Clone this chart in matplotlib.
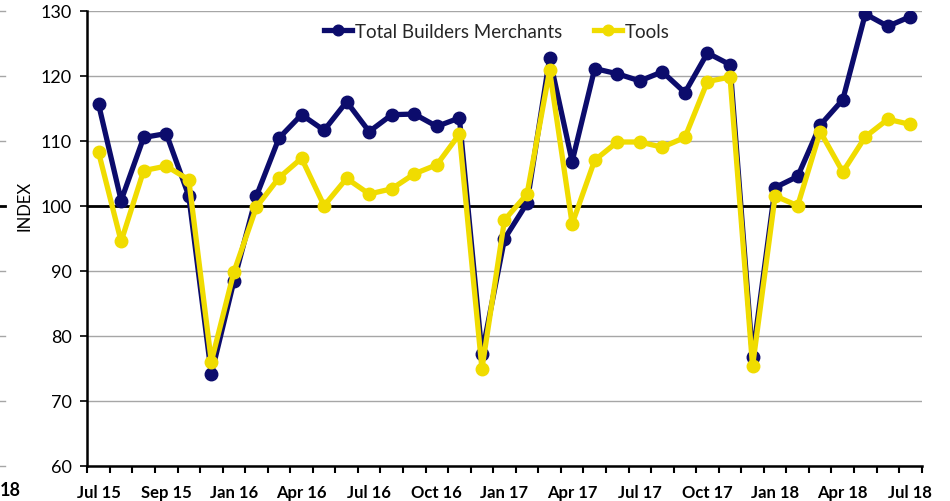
import numpy as np
import matplotlib
matplotlib.use("Agg")
import matplotlib.pyplot as plt
from matplotlib.ticker import FixedLocator
from matplotlib.lines import Line2D

# Monthly index, Jul 15 .. Jul 18
months = ["Jul 15", "Aug 15", "Sep 15", "Oct 15", "Nov 15", "Dec 15",
          "Jan 16", "Feb 16", "Mar 16", "Apr 16", "May 16", "Jun 16",
          "Jul 16", "Aug 16", "Sep 16", "Oct 16", "Nov 16", "Dec 16",
          "Jan 17", "Feb 17", "Mar 17", "Apr 17", "May 17", "Jun 17",
          "Jul 17", "Aug 17", "Sep 17", "Oct 17", "Nov 17", "Dec 17",
          "Jan 18", "Feb 18", "Mar 18", "Apr 18", "May 18", "Jun 18", "Jul 18"]

total_builders = [115.6, 100.8, 110.5, 111.1, 101.5, 74.1,
                  88.4, 101.5, 110.4, 114.0, 111.6, 116.0,
                  111.4, 114.0, 114.1, 112.2, 113.5, 77.2,
                  94.9, 100.4, 122.7, 106.8, 121.1, 120.3,
                  119.2, 120.6, 117.4, 123.5, 121.7, 76.7,
                  102.8, 104.5, 112.4, 116.3, 129.5, 127.6, 129.1]

tools = [108.2, 94.5, 105.4, 106.1, 104.0, 76.0,
         89.8, 99.8, 104.3, 107.3, 100.0, 104.2,
         101.8, 102.6, 104.9, 106.3, 111.0, 74.9,
         97.8, 101.8, 120.8, 97.2, 107.0, 109.8,
         109.8, 109.0, 110.5, 119.1, 119.8, 75.3,
         101.5, 100.0, 111.4, 105.2, 110.6, 113.3, 112.5]

# the source chart labels every third month (its second label really reads "Sep 15")
tick_labels = ["Jul 15", "Sep 15", "Jan 16", "Apr 16", "Jul 16", "Oct 16", "Jan 17",
               "Apr 17", "Jul 17", "Oct 17", "Jan 18", "Apr 18", "Jul 18"]

navy = "#0c0c6c"
yellow = "#f0dc00"

fig = plt.figure(figsize=(9.5, 5.02), dpi=100)
ax = fig.add_axes([0.0919, 0.0703, 0.8783, 0.9064])

x = np.arange(len(months))
ax.plot(x, total_builders, color=navy, lw=3.8, marker="o", ms=9,
        label="Total Builders Merchants", zorder=3, solid_joinstyle="round")
ax.plot(x, tools, color=yellow, lw=3.8, marker="o", ms=9,
        label="Tools", zorder=4, solid_joinstyle="round")

ax.set_xlim(-0.5, len(months) - 0.5)
ax.set_ylim(60, 130)
ax.set_yticks(np.arange(60, 131, 10))
ax.yaxis.grid(True, color="#a6a6a6", lw=1.0)
ax.set_axisbelow(True)
ax.axhline(100, color="black", lw=2.0, zorder=2)

ax.xaxis.set_major_locator(FixedLocator(np.arange(0, len(months), 3)))
ax.set_xticklabels(tick_labels)
ax.xaxis.set_minor_locator(FixedLocator(np.arange(-0.5, len(months), 1)))
ax.tick_params(axis="x", which="major", length=0, pad=13)
ax.tick_params(axis="x", which="minor", length=5, width=1.5, color="black")
ax.tick_params(axis="y", length=5, width=1.2, pad=6)

for lab in ax.get_xticklabels():
    lab.set_fontfamily("Lato")
    lab.set_fontweight("bold")
    lab.set_fontsize(12)
for lab in ax.get_yticklabels():
    lab.set_fontfamily("Lato")
    lab.set_fontsize(13)

for side in ["top", "right"]:
    ax.spines[side].set_visible(False)
ax.spines["left"].set_linewidth(1.8)
ax.spines["bottom"].set_linewidth(1.8)

ax.set_ylabel("INDEX", fontsize=12, family="Lato")
ax.yaxis.set_label_coords(-0.066, 0.573)

leg = ax.legend(loc="center", bbox_to_anchor=(0.491, 0.955), ncol=2, frameon=False,
                prop={"family": "Lato", "size": 13.5}, handlelength=1.5,
                columnspacing=1.7, handletextpad=0.15, markerscale=0.85)
for t in leg.get_texts():
    t.set_color("#262626")

# remnants of the neighbouring chart at the left edge
fig.text(0.0, 0.012, "18", fontsize=13, fontweight="bold", family="Lato", ha="left")
for v in range(60, 131, 10):
    yf = 0.0703 + (v - 60) / 70 * 0.9064
    fig.add_artist(Line2D([0.0, 0.005], [yf, yf], transform=fig.transFigure,
                          color="black" if v == 100 else "#a6a6a6",
                          lw=2.0 if v == 100 else 1.0))

fig.savefig("out.png", dpi=100)
